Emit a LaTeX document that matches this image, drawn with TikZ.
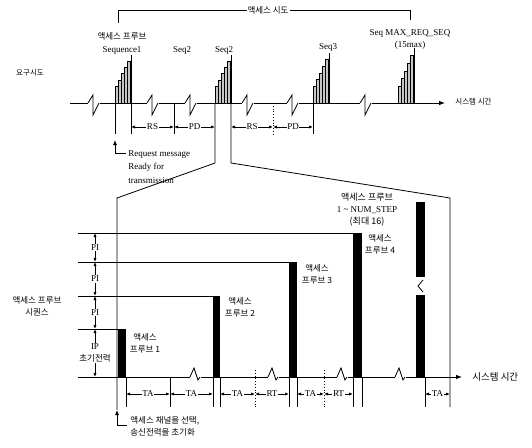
\documentclass[tikz,border=0pt]{standalone}
\usepackage{fontspec}
\setmainfont{Liberation Serif}
\newfontfamily\kr{Noto Sans CJK KR}
\usetikzlibrary{arrows.meta}

\begin{document}
\begin{tikzpicture}[
    x=1pt, y=-1pt,
    line width=0.8pt,
    lat/.style={font=\fontsize{9}{12}\selectfont, inner sep=1pt},
    kr/.style={font=\kr\fontsize{8.5}{12}\selectfont, inner sep=1pt},
    krsmall/.style={font=\kr\fontsize{7.5}{9}\selectfont, inner sep=1pt},
    dim/.style={{Latex[length=4pt,width=3.2pt]}-{Latex[length=4pt,width=3.2pt]}},
    axis/.style={-{Latex[length=6pt,width=4.5pt]}},
    note/.style={-{Latex[length=5pt,width=4pt]}},
    tag/.style={lat, fill=white, inner sep=0.6pt},
    seqbar/.style={draw, fill=gray!45, line width=0.5pt},
    probe/.style={fill=black},
    topbrk/.pic={\fill[white] (-0.5,-1.5) rectangle (11.5,1.5);
                 \draw (0,0) -- (5,-8) -- (5,12) -- (11,0);},
    botbrk/.pic={\fill[white] (-0.5,-1.5) rectangle (10.5,1.5);
                 \draw (0,0) -- (4,-9) -- (8,3) -- (10,0);}
]
    \useasboundingbox (0,0) rectangle (532,447);

    % Upper time line
    \draw (118,23) |- (410,10) -- (410,20);
    \node[kr, fill=white] (tryall) at (268,10) {액세스 시도};
    \node[krsmall] (reqtry) at (30,73) {요구시도};
    \draw[axis] (70,103) -- (445,103);
    \foreach \x in {88,147,185,242,287,360}
        \pic at (\x,103) {topbrk};
    \node[krsmall, anchor=west] (systime) at (454,102) {시스템 시간};

    % Probe sequences
    \foreach \s/\h in {115/55,215/55,313/53,398/48} {
        \foreach \i in {0,...,4}
            \filldraw[seqbar] ({\s+\i*3},103) rectangle ({\s+\i*3+3},{86-\i*(86-\h)/5});
        \draw ({\s+16},103) -- ({\s+16},\h);
    }
    \node[kr] (probeseq) at (122,36) {액세스 프루브};
    \node[lat] (seqone) at (122,50) {Sequence1};
    \node[lat] (seqtwoa) at (182,50) {Seq2};
    \node[lat] (seqtwob) at (224,50) {Seq2};
    \node[lat] (seqthree) at (328,47) {Seq3};
    \node[lat, align=center] (seqmax) at (410,39) {Seq MAX\_REQ\_SEQ\\(15max)};

    % Upper ticks and spacings
    \foreach \x in {115,131,174,313}
        \draw (\x,103) -- (\x,134);
    \draw[dotted] (273,103) -- (273,134);
    \draw[dim] (131,127) -- node[tag] (rsa) {RS} (174,127);
    \draw[dim] (174,127) -- node[tag] (pda) {PD} (215,127);
    \draw[dim] (231,127) -- node[tag] (rsb) {RS} (273,127);
    \draw[dim] (273,127) -- node[tag] (pdb) {PD} (313,127);
    \draw[note] (126,153) -| (115,140);
    \node[lat, anchor=north west, align=left, font=\fontsize{9}{13.5}\selectfont]
        (reqmsg) at (127,149) {Request message\\Ready for\\transmission};

    % Zoom lines
    \draw (215,103) -- (215,163) -- (117,198) -- (117,410);
    \draw (231,103) -- (231,163) -- (450,198) -- (450,407);

    % Lower chart: power levels
    \draw (78,233) -- (353,233);
    \draw (78,262) -- (289,262);
    \draw (78,296) -- (213,296);
    \draw (78,329) -- (118,329);
    \draw[axis] (78,377) -- (462,377);
    \foreach \x in {190,268,337,395}
        \pic at (\x,377) {botbrk};
    \node[kr, anchor=west, font=\kr\fontsize{9.5}{11}\selectfont] (systimeb) at (471,377) {시스템 시간};

    % Access probes
    \fill[probe] (118,329) rectangle (126,377);
    \fill[probe] (213,296) rectangle (220,377);
    \fill[probe] (289,262) rectangle (297,377);
    \fill[probe] (353,233) rectangle (362,377);
    \fill[probe] (416,202) rectangle (425,277);
    \fill[probe] (416,295) rectangle (425,377);
    \draw (423,280) -- (418,286) -- (423,292);
    \node[kr, align=center] (probea) at (145,343) {액세스\\프루브 1};
    \node[kr, align=center] (probeb) at (240,307) {액세스\\프루브 2};
    \node[kr, align=center] (probec) at (317,274) {액세스\\프루브 3};
    \node[kr, align=center] (probed) at (380,244) {액세스\\프루브 4};
    \node[lat, align=center] (probelast) at (367,210)
        {{\kr 액세스 프루브}\\1 \textasciitilde{} NUM\_STEP\\{\kr (최대 16)}};

    % Power steps
    \node[kr, align=center] (probeseqb) at (37,306) {액세스 프루브\\시퀀스};
    \draw[dim] (95,233) -- node[tag] (pia) {PI} (95,262);
    \draw[dim] (95,262) -- node[tag] (pib) {PI} (95,296);
    \draw[dim] (95,296) -- node[tag] (pic) {PI} (95,329);
    \draw[dim] (95,329) -- node[tag, align=center] (ip) {IP\\{\kr\fontsize{8.5}{12}\selectfont 초기전력}} (95,377);

    % Lower ticks and spacings
    \foreach \x in {126,170,213,220,289,297,353,362,425}
        \draw (\x,377) -- (\x,407);
    \foreach \x in {255,324}
        \draw[dotted] (\x,370) -- (\x,407);
    \draw[dim] (126,394) -- node[tag] (taa) {TA} (170,394);
    \draw[dim] (170,394) -- node[tag] (tab) {TA} (213,394);
    \draw[dim] (220,394) -- node[tag] (tac) {TA} (255,394);
    \draw[dim] (255,394) -- node[tag] (rta) {RT} (289,394);
    \draw[dim] (297,394) -- node[tag] (tad) {TA} (324,394);
    \draw[dim] (324,394) -- node[tag] (rtb) {RT} (353,394);
    \draw[dim] (425,394) -- node[tag] (tae) {TA} (450,394);
    \draw[note] (127,425) -| (117,410);
    \node[kr, anchor=west, align=left] (chsel) at (129,426) {액세스 채널을 선택,\\송신전력을 초기화};
\end{tikzpicture}
\end{document}
